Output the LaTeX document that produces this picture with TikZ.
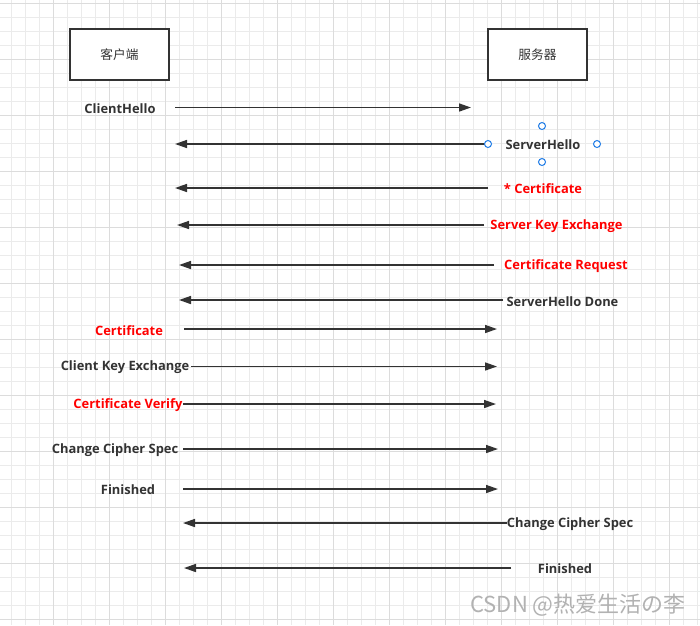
\documentclass[tikz,border=0pt]{standalone}
\usepackage{fontspec}
\setmainfont{Open Sans}
\newfontfamily\cjk{Noto Sans CJK SC}
\usetikzlibrary{arrows.meta}
\definecolor{ink}{HTML}{333333}
\definecolor{gridminor}{HTML}{EBEBEB}
\definecolor{gridmajor}{HTML}{DCDCDC}
\definecolor{hred}{HTML}{FF0000}
\definecolor{handle}{HTML}{1E7BE6}
\tikzset{
  box/.style={draw=ink, line width=1.5pt, fill=white, minimum width=99pt, minimum height=51pt, inner sep=0pt, font=\cjk\fontsize{12.7}{14}\selectfont, text=ink},
  lbl/.style={inner sep=0pt, yshift=-1pt, font=\bfseries\fontsize{12.9}{15}\selectfont, text=ink},
  rlbl/.style={lbl, text=hred},
  msg/.style={draw=ink, line width=1.5pt, -{Triangle[length=12pt,width=8pt]}},
  hnd/.style={circle, draw=handle, fill=white, line width=1pt, minimum size=7pt, inner sep=0pt},
}
\begin{document}
\begin{tikzpicture}[x=1pt,y=-1pt]
\useasboundingbox (0,0) rectangle (700,625);
\fill[white] (0,0) rectangle (700,625);
\foreach \x in {-3,11,...,700} \draw[gridminor, line width=0.8pt] (\x,0) -- (\x,625);
\foreach \y in {3,17,...,625} \draw[gridminor, line width=0.8pt] (0,\y) -- (700,\y);
\foreach \x in {53,109,...,700} \draw[gridmajor, line width=0.9pt] (\x,0) -- (\x,625);
\foreach \y in {3,59,...,625} \draw[gridmajor, line width=0.9pt] (0,\y) -- (700,\y);

\node[box] (client) at (119.5,54.5) {客户端};
\node[box] (server) at (537.5,54.5) {服务器};

% messages
\node[lbl] (m1) at (120,108) {ClientHello};
\coordinate (m1s) at (175,107.5); \coordinate (m1e) at (471,107.5);
\draw[msg] (m1s) -- (m1e);

\node[lbl] (m2) at (543,144) {ServerHello};
\coordinate (m2s) at (488,144);
\coordinate (m2e) at (175,144);
\draw[msg] (m2s) -- (m2e);
\node[hnd] (h1) at (542,126) {};
\node[hnd] (h2) at (488,144) {};
\node[hnd] (h3) at (597,144) {};
\node[hnd] (h4) at (542,162) {};

\node[rlbl] (m3) at (543,188) {* Certificate};
\coordinate (m3s) at (488,188); \coordinate (m3e) at (175,188);
\draw[msg] (m3s) -- (m3e);

\node[rlbl] (m4) at (556.5,225) {Server Key Exchange};
\coordinate (m4s) at (484,225); \coordinate (m4e) at (177,225);
\draw[msg] (m4s) -- (m4e);

\node[rlbl] (m5) at (566,265) {Certificate Request};
\coordinate (m5s) at (494,265); \coordinate (m5e) at (179,265);
\draw[msg] (m5s) -- (m5e);

\node[lbl] (m6) at (562.5,301) {ServerHello Done};
\coordinate (m6s) at (503,300); \coordinate (m6e) at (179,300);
\draw[msg] (m6s) -- (m6e);

\node[rlbl] (m7) at (129,330) {Certificate};
\coordinate (m7s) at (184,329); \coordinate (m7e) at (497,329);
\draw[msg] (m7s) -- (m7e);

\node[lbl] (m8) at (125,366) {Client Key Exchange};
\coordinate (m8s) at (191,366.5); \coordinate (m8e) at (497,366.5);
\draw[msg] (m8s) -- (m8e);

\node[rlbl] (m9) at (128,404) {Certificate Verify};
\coordinate (m9s) at (183,404); \coordinate (m9e) at (496,404);
\draw[msg] (m9s) -- (m9e);

\node[lbl] (m10) at (115,449) {Change Cipher Spec};
\coordinate (m10s) at (183,449); \coordinate (m10e) at (498,449);
\draw[msg] (m10s) -- (m10e);

\node[lbl] (m11) at (128,489) {Finished};
\coordinate (m11s) at (183,489); \coordinate (m11e) at (498,489);
\draw[msg] (m11s) -- (m11e);

\node[lbl] (m12) at (570,523) {Change Cipher Spec};
\coordinate (m12s) at (507,523); \coordinate (m12e) at (183,523);
\draw[msg] (m12s) -- (m12e);

\node[lbl] (m13) at (565,568) {Finished};
\coordinate (m13s) at (511,568); \coordinate (m13e) at (184,568);
\draw[msg] (m13s) -- (m13e);

\node[inner sep=0pt, text=black!30, font=\cjk\fontsize{22}{26}\selectfont] (wm) at (578,605) {CSDN @热爱生活の李};
\end{tikzpicture}
\end{document}
